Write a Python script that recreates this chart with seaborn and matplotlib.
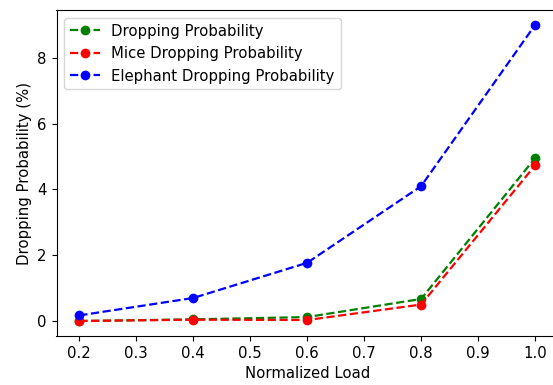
import matplotlib
matplotlib.use("Agg")
import matplotlib.pyplot as plt
import seaborn as sns

load = [0.2, 0.4, 0.6, 0.8, 1.0]
dropping = [0.0, 0.05, 0.12, 0.67, 4.95]
mice_dropping = [0.0, 0.04, 0.03, 0.50, 4.73]
elephant_dropping = [0.17, 0.70, 1.77, 4.10, 9.0]

plt.rcParams["font.size"] = 10.7

fig = plt.figure(figsize=(5.53, 3.85), dpi=100)
ax = fig.add_axes([56.5 / 553, 0.1278, 501.3 / 553, 0.8455])

series = [
    (dropping, "green", "Dropping Probability"),
    (mice_dropping, "red", "Mice Dropping Probability"),
    (elephant_dropping, "blue", "Elephant Dropping Probability"),
]
for vals, col, lab in series:
    sns.lineplot(x=load, y=vals, ax=ax, color=col, linestyle="--", marker="o",
                 markersize=7, markeredgewidth=0, linewidth=1.6, label=lab)

ax.set_xlabel("Normalized Load")
ax.set_ylabel("Dropping Probability (%)")
ax.set_xticks([0.2, 0.3, 0.4, 0.5, 0.6, 0.7, 0.8, 0.9, 1.0])
ax.set_yticks([0, 2, 4, 6, 8])
ax.legend(loc="upper left")
fig.savefig("out.png", dpi=100)
